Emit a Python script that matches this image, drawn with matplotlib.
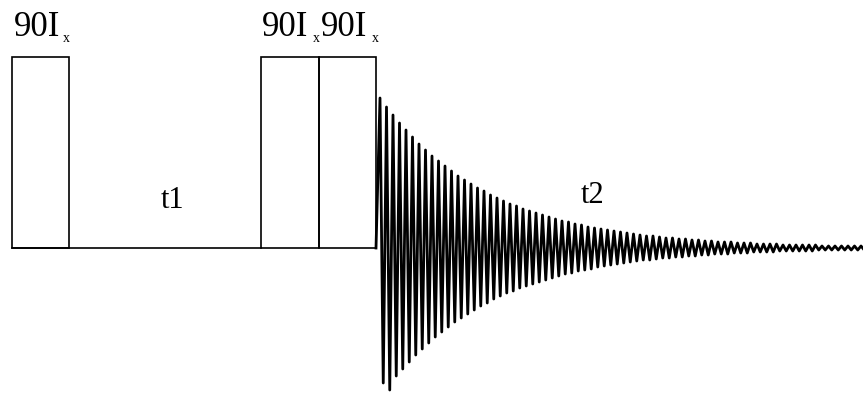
import numpy as np
import matplotlib.pyplot as plt
from matplotlib.patches import Rectangle

# pulse timing (pixels along the time axis) and pulse height
pulse_start = [12, 261, 319]
pulse_end = [69, 319, 376]
pulse_height = 191

# FID: positive peak and negative trough height for each cycle
fid_top = [150, 141, 133, 125, 118, 111, 104, 98, 92, 87, 82, 77, 72, 68, 64,
           60, 57, 53, 50, 47, 44, 42, 39, 37, 35, 33, 31, 29, 27, 26,
           24, 23, 21, 20, 19, 18, 17, 16, 15, 14, 13, 12, 12, 11, 10,
           10, 9, 9, 8, 8, 7, 7, 6, 6, 6, 5, 5, 5, 4, 4,
           4, 4, 3, 3, 3, 3, 3, 3, 2, 2, 2, 2, 2, 2, 2]
fid_bottom = [135, 142, 128, 121, 114, 107, 101, 95, 89, 84, 79, 74, 70, 66, 62,
              58, 55, 51, 48, 45, 43, 40, 38, 36, 34, 32, 30, 28, 26, 25,
              23, 22, 21, 19, 18, 17, 16, 15, 14, 13, 12, 12, 11, 10, 10,
              9, 9, 8, 8, 7, 7, 6, 6, 6, 5, 5, 5, 4, 4, 4,
              4, 3, 3, 3, 3, 3, 3, 2, 2, 2, 2, 2, 2, 2, 2]
cycle = 6.5

fig = plt.figure(figsize=(8.63, 3.98), dpi=100)
ax = fig.add_axes([0, 0, 1, 1])
ax.set_xlim(0, 863)
ax.set_ylim(-150, 248)
ax.axis('off')

# baseline during the evolution period
ax.plot([pulse_start[0], pulse_start[1]], [0, 0], color='black', lw=1.2)

for s, e in zip(pulse_start, pulse_end):
    ax.add_patch(Rectangle((s, 0), e - s, pulse_height, fill=False,
                           edgecolor='black', lw=1.2))

# acquisition: zigzag through the peaks and troughs
t0 = pulse_end[-1]
n = len(fid_top)
t_top = t0 + 4 + cycle * np.arange(n)
t_bot = t_top + cycle / 2
fid_t = np.empty(2 * n)
fid_y = np.empty(2 * n)
fid_t[0::2] = t_top
fid_t[1::2] = t_bot
fid_y[0::2] = fid_top
fid_y[1::2] = -np.array(fid_bottom)
ax.plot(np.r_[t0, fid_t], np.r_[0, fid_y], color='black', lw=2.0)

serif = 'Liberation Serif'
big = 25
ax.text(14, 212, '90I', fontsize=big, family=serif, va='baseline')
ax.text(63, 206, 'x', fontsize=10, family=serif, va='baseline')
ax.text(262, 212, '90I', fontsize=big, family=serif, va='baseline')
ax.text(313, 206, 'x', fontsize=10, family=serif, va='baseline')
ax.text(321, 212, '90I', fontsize=big, family=serif, va='baseline')
ax.text(372, 206, 'x', fontsize=10, family=serif, va='baseline')

ax.text(161, 40, 't1', fontsize=22, family=serif, va='baseline')
ax.text(581, 45, 't2', fontsize=22, family=serif, va='baseline')

fig.savefig('out.png', dpi=100)
